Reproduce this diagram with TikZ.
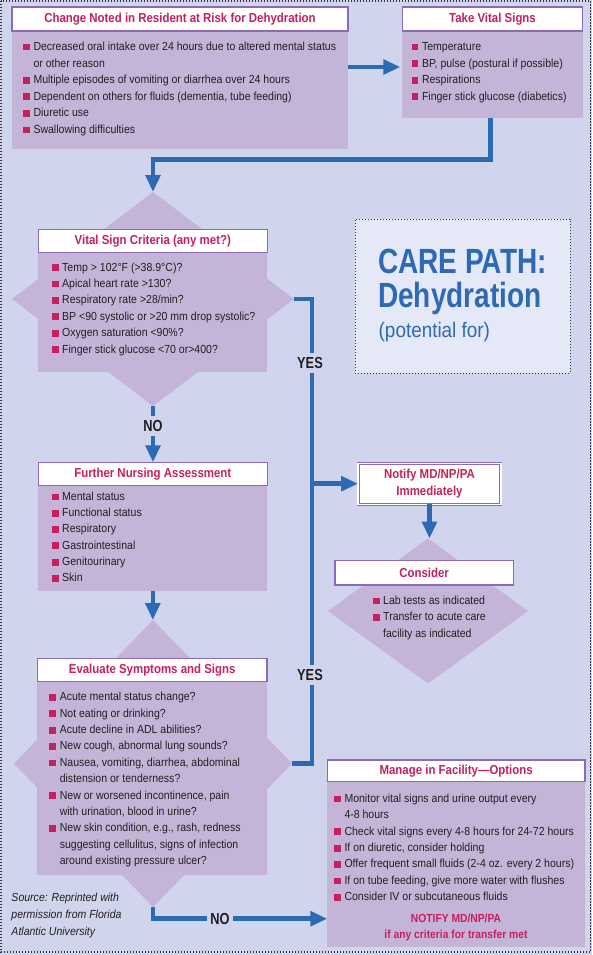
\documentclass[tikz,border=0pt]{standalone}
\usepackage{fontspec}
\setmainfont{Liberation Sans}[FakeStretch=0.9]
\newfontfamily\ttlfam{Liberation Sans}[FakeStretch=0.88]
\newfontfamily\cndfam{Liberation Sans}[FakeStretch=0.8]
\usetikzlibrary{shapes.geometric,arrows.meta,calc}
\definecolor{bgc}{RGB}{208,212,237}
\definecolor{boxc}{RGB}{196,180,216}
\definecolor{brd}{RGB}{142,104,186}
\definecolor{mag}{RGB}{200,32,94}
\definecolor{blu}{RGB}{45,106,180}
\definecolor{txt}{RGB}{35,31,32}
\definecolor{carec}{RGB}{229,232,246}
\definecolor{dotc}{RGB}{55,55,65}
\newcommand\bx{\makebox[10.5pt][l]{\textcolor{mag}{\rule{6.8pt}{6.8pt}}}}
\newcommand\cx{\hspace*{10.5pt}}
\newcommand\ttlf{\ttlfam\bfseries\fontsize{13pt}{16.7pt}\selectfont}
\tikzset{
  diam/.style={diamond, fill=boxc, draw=none, inner sep=0pt, outer sep=0pt},
  bodyr/.style={fill=boxc, draw=none, inner sep=0pt, outer sep=0pt, anchor=north west},
  ttl/.style={draw=brd, line width=1.2pt, fill=white, inner sep=0pt, outer sep=0pt,
    anchor=north west, text=mag, font=\ttlf},
  blist/.style={anchor=base west, inner sep=0pt, outer sep=0pt, text=txt},
  lbl/.style={fill=bgc, inner xsep=3.5pt, inner ysep=4.5pt, text=txt,
    font=\cndfam\bfseries\fontsize{16pt}{18pt}\selectfont},
  ln/.style={draw=blu, line width=4.6pt},
  arr/.style={draw=blu, line width=4.6pt, -{Triangle[length=17pt,width=14.5pt]}},
}
\begin{document}
\begin{tikzpicture}[x=1pt,y=-1pt]
\useasboundingbox (0,0) rectangle (592,955);
\fill[bgc] (0,0) rectangle (592,955);
\draw[dotc, line width=1.3pt, dash pattern=on 1.3pt off 1.7pt] (1,1) rectangle (590.5,952);

% ---- Box 1: Change noted
\node[bodyr, minimum width=336pt, minimum height=117.5pt] (b1) at (12,31) {};
\node[ttl, minimum width=336pt, minimum height=24pt] (t1) at (12,7) {Change Noted in Resident at Risk for Dehydration};
\node[blist, font={\fontsize{11.7pt}{16.6pt}\selectfont}] (x1) at (23,50.5) {\begin{tabular}[t]{@{}l@{}}
\bx Decreased oral intake over 24 hours due to altered mental status\\
\cx or other reason\\
\bx Multiple episodes of vomiting or diarrhea over 24 hours\\
\bx Dependent on others for fluids (dementia, tube feeding)\\
\bx Diuretic use\\
\bx Swallowing difficulties\end{tabular}};

% ---- Box 2: Take vital signs
\node[bodyr, minimum width=180.4pt, minimum height=86.7pt] (b2) at (402.3,31) {};
\node[ttl, minimum width=180.4pt, minimum height=24pt] (t2) at (402.3,7) {Take Vital Signs};
\node[blist, font={\fontsize{11.7pt}{16.6pt}\selectfont}] (x2) at (411.5,50.5) {\begin{tabular}[t]{@{}l@{}}
\bx Temperature\\
\bx BP, pulse (postural if possible)\\
\bx Respirations\\
\bx Finger stick glucose (diabetics)\end{tabular}};

% ---- Diamond 1: Vital sign criteria
\node[diam, minimum width=282pt, minimum height=214pt] (d1) at (153,299) {};
\node[bodyr, minimum width=229pt, minimum height=119.5pt] (b3a) at (38.3,252.7) {};
\node[ttl, minimum width=229pt, minimum height=23.4pt] (t3a) at (38.3,229.3) {Vital Sign Criteria (any met?)};
\node[blist, font={\fontsize{11.7pt}{16.4pt}\selectfont}] (x3) at (51.7,271) {\begin{tabular}[t]{@{}l@{}}
\bx Temp > 102°F (>38.9°C)?\\
\bx Apical heart rate >130?\\
\bx Respiratory rate >28/min?\\
\bx BP <90 systolic or >20 mm drop systolic?\\
\bx Oxygen saturation <90\%?\\
\bx Finger stick glucose <70 or>400?\end{tabular}};

% ---- Further nursing assessment
\node[bodyr, minimum width=229pt, minimum height=105.3pt] (b4) at (38.3,485.7) {};
\node[ttl, minimum width=229pt, minimum height=23.4pt] (t4) at (38.3,462.3) {Further Nursing Assessment};
\node[blist, font={\fontsize{11.7pt}{16.3pt}\selectfont}] (x4) at (51.7,500.3) {\begin{tabular}[t]{@{}l@{}}
\bx Mental status\\
\bx Functional status\\
\bx Respiratory\\
\bx Gastrointestinal\\
\bx Genitourinary\\
\bx Skin\end{tabular}};

% ---- Diamond 2: Evaluate symptoms
\node[diam, minimum width=278pt, minimum height=287pt] (d2) at (153,763.5) {};
\node[bodyr, minimum width=229.7pt, minimum height=193.3pt] (b5a) at (37.3,681.7) {};
\node[ttl, minimum width=229.7pt, minimum height=23.4pt] (t5) at (37.3,658.3) {Evaluate Symptoms and Signs};
\node[blist, font={\fontsize{11.7pt}{16.4pt}\selectfont}] (x5) at (49.3,700.7) {\begin{tabular}[t]{@{}l@{}}
\bx Acute mental status change?\\
\bx Not eating or drinking?\\
\bx Acute decline in ADL abilities?\\
\bx New cough, abnormal lung sounds?\\
\bx Nausea, vomiting, diarrhea, abdominal\\
\cx distension or tenderness?\\
\bx New or worsened incontinence, pain\\
\cx with urination, blood in urine?\\
\bx New skin condition, e.g., rash, redness\\
\cx suggesting cellulitus, signs of infection\\
\cx around existing pressure ulcer?\end{tabular}};

% ---- Care path box
\node[draw=dotc, line width=1pt, dash pattern=on 1.2pt off 1.8pt, fill=carec,
  minimum width=215pt, minimum height=154pt, inner sep=0pt, outer sep=0pt, anchor=north west] (cp) at (355,219) {};
\node[anchor=base west, inner sep=0pt, text=blu, font=\cndfam\bfseries\fontsize{35pt}{34pt}\selectfont] (cpa) at (378,273) {CARE PATH:};
\node[anchor=base west, inner sep=0pt, text=blu, font=\cndfam\bfseries\fontsize{35pt}{34pt}\selectfont] (cpb) at (378,307) {Dehydration};
\node[anchor=base west, inner sep=0pt, text=blu, font=\fontsize{21pt}{24pt}\selectfont] (cpc) at (378.5,337) {(potential for)};

% ---- Notify
\node[draw=brd, double=white, double distance=1.3pt, line width=0.8pt, fill=white,
  minimum width=142.8pt, minimum height=41.1pt, inner sep=0pt, outer sep=0pt, align=center,
  text=mag, font={\ttlfam\bfseries\fontsize{13pt}{16.7pt}\selectfont}] (nt) at (429.5,483.7) {Notify MD/NP/PA\\Immediately};

% ---- Consider diamond
\node[diam, minimum width=200pt, minimum height=145pt] (d3) at (428,611) {};
\node[ttl, minimum width=178.3pt, minimum height=24.3pt] (t6) at (335,560.7) {Consider};
\node[blist, font={\fontsize{11.7pt}{16.5pt}\selectfont}] (x6) at (372.7,604.3) {\begin{tabular}[t]{@{}l@{}}
\bx Lab tests as indicated\\
\bx Transfer to acute care\\
\cx facility as indicated\end{tabular}};

% ---- Manage in facility
\node[bodyr, minimum width=257.7pt, minimum height=165pt] (b7) at (327.3,781.7) {};
\node[ttl, minimum width=257.7pt, minimum height=21.7pt] (t7) at (327.3,760) {Manage in Facility—Options};
\node[blist, font={\fontsize{11.7pt}{16.4pt}\selectfont}] (x7) at (334,802.3) {\begin{tabular}[t]{@{}l@{}}
\bx Monitor vital signs and urine output every\\
\cx 4-8 hours\\
\bx Check vital signs every 4-8 hours for 24-72 hours\\
\bx If on diuretic, consider holding\\
\bx Offer frequent small fluids (2-4 oz. every 2 hours)\\
\bx If on tube feeding, give more water with flushes\\
\bx Consider IV or subcutaneous fluids\end{tabular}};
\node[anchor=base, inner sep=0pt, text=mag, font={\ttlfam\bfseries\fontsize{11.7pt}{16.5pt}\selectfont}] (x7b) at (456,922) {\begin{tabular}[t]{@{}c@{}}NOTIFY MD/NP/PA\\if any criteria for transfer met\end{tabular}};

% ---- Source
\node[blist, font={\itshape\fontsize{11.7pt}{16.8pt}\selectfont}] (src) at (11.5,901.5) {\begin{tabular}[t]{@{}l@{}}Source: Reprinted with\\permission from Florida\\Atlantic University\end{tabular}};

% ---- Connectors
\coordinate (a1) at ($(b1.north east)+(0,36)$);
\coordinate (a2) at ($(b2.north west)+(-2,36)$);
\draw[arr] (a1) -- (a2);
\coordinate (c2) at ($(b2.south)+(-2,0)$);
\draw[arr] (c2) -- ++(0,41.5) -| (d1.north);
\draw[ln] (d1.east) -- ++(18,0) |- (d2.east);
\coordinate (jy) at (310,0);
\draw[arr] (nt.west -| jy) -- (nt.west);
\draw[arr] (d1.south) -- (d1.south |- t4.north);
\draw[arr] (b4.south) -- (b4.south |- d2.north);
\coordinate (m1) at ($(b7.south west)+(0,-28)$);
\draw[arr] (d2.south) |- (m1);
\draw[arr] (nt.south) -- (nt.south |- d3.north);

\node[lbl] (yes1) at (310,363) {YES};
\node[lbl] (yes2) at (310,675) {YES};
\node[lbl] (no1) at (153,426) {NO};
\node[lbl] (no2) at (220,919) {NO};
\end{tikzpicture}
\end{document}
